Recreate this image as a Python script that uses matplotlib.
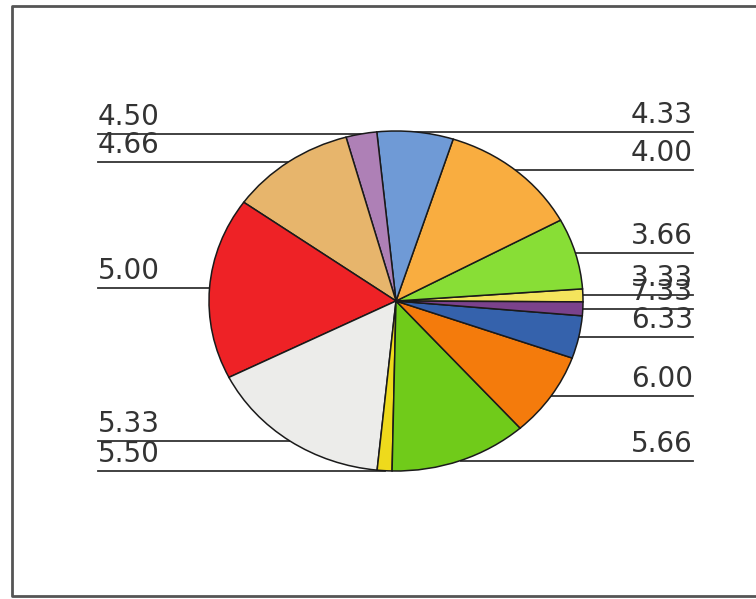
import numpy as np
import matplotlib
matplotlib.use('Agg')
import matplotlib.pyplot as plt

# categories (sorted), slice sizes (degrees of arc)
labels = ['3.33', '3.66', '4.00', '4.33', '4.50', '4.66', '5.00',
          '5.33', '5.50', '5.66', '6.00', '6.33', '7.33']
sizes = [4.4, 24.3, 43.8, 23.7, 9.6, 39.0, 62.2,
         57.5, 4.6, 42.8, 28.8, 14.6, 4.7]
colors = ['#F4E45C', '#88DE36', '#F9AD40', '#6F9AD6', '#AE80B6', '#E7B56C', '#EE2226',
          '#ECECEA', '#EEDA1C', '#70CB1A', '#F47B0C', '#3562AC', '#7B428C']

W, H = 756, 599
cx, cy, rx, ry = 396, 301, 187, 170

fig = plt.figure(figsize=(W / 100, H / 100), dpi=100)

# overlay in pixel coordinates for frame, leader lines and labels
ax0 = fig.add_axes([0, 0, 1, 1])
ax0.set_xlim(0, W)
ax0.set_ylim(H, 0)
ax0.axis('off')
ax0.plot([W + 5, 12, 12, W + 5], [6, 6, 596, 596], color='#555555', lw=2, clip_on=False)

# pie axes, stretched so the pie is slightly elliptical
ax = fig.add_axes([(cx - rx) / W, (H - cy - ry) / H, 2 * rx / W, 2 * ry / H])
wedges, _ = ax.pie(sizes, colors=colors, startangle=-0.3, counterclock=True,
                   wedgeprops=dict(edgecolor='#1a1a1a', linewidth=1.1))
ax.set_aspect('auto')
ax.set_xlim(-1, 1)
ax.set_ylim(-1, 1)
ax.axis('off')

for w, lab in zip(wedges, labels):
    mid = np.deg2rad((w.theta1 + w.theta2) / 2)
    px = cx + rx * np.cos(mid)
    py = cy - ry * np.sin(mid)
    if np.cos(mid) >= 0:
        ax0.plot([px, 693], [py, py], color='#333333', lw=1.3)
        ax0.text(693, py - 9, lab, ha='right', va='baseline', fontsize=20, color='#333333')
    else:
        ax0.plot([98, px], [py, py], color='#333333', lw=1.3)
        ax0.text(98, py - 9, lab, ha='left', va='baseline', fontsize=20, color='#333333')

fig.savefig('out.png', dpi=100)
